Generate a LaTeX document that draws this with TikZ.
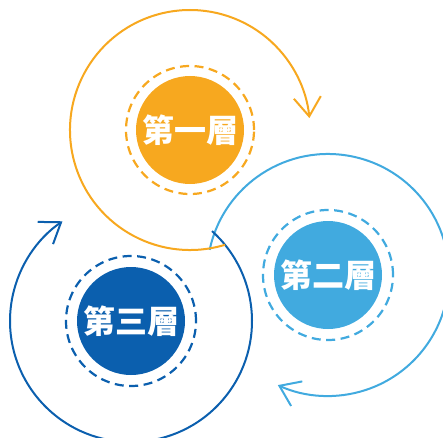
\documentclass[tikz,border=0pt]{standalone}
\usepackage{fontspec}
\newfontfamily\cjk{Noto Sans CJK TC}
\usetikzlibrary{arrows.meta}

\definecolor{layerA}{RGB}{247,168,31}
\definecolor{layerB}{RGB}{65,170,223}
\definecolor{layerC}{RGB}{11,95,174}

\begin{document}
\begin{tikzpicture}[x=1pt,y=1pt]
\tikzstyle{layer} = [circle,minimum size=108pt,inner sep=0pt,text=white,font=\cjk\bfseries\fontsize{32}{32}\selectfont]
\tikzstyle{ring} = [line width=2.2pt,dash pattern=on 9pt off 5.5pt]
\tikzstyle{loop} = [line width=2pt,-{Straight Barb[length=19pt,width=27pt,line width=2pt]}]
\useasboundingbox (0,0) rectangle (443,437);
\node[layer,fill=layerA] (first) at (190,307) {第一層} ;
\node[layer,fill=layerB] (second) at (328,162) {第二層} ;
\node[layer,fill=layerC] (third) at (131,116) {第三層} ;
\draw[ring,layerA] (first) circle (64);
\draw[ring,layerB] (second) circle (65);
\draw[ring,layerC] (third) circle (65);
% big arcs, each tail ends on the next one
\draw[loop,layerB] (second.center) ++(168:121) arc[start angle=168,end angle=-114.5,radius=121];
\draw[loop,layerC] (third.center) ++(48:121) arc[start angle=48,end angle=-235.5,radius=121];
\draw[loop,layerA] (first.center) ++(-73:120) arc[start angle=-73,end angle=-354.3,radius=120];
\end{tikzpicture}
\end{document}
